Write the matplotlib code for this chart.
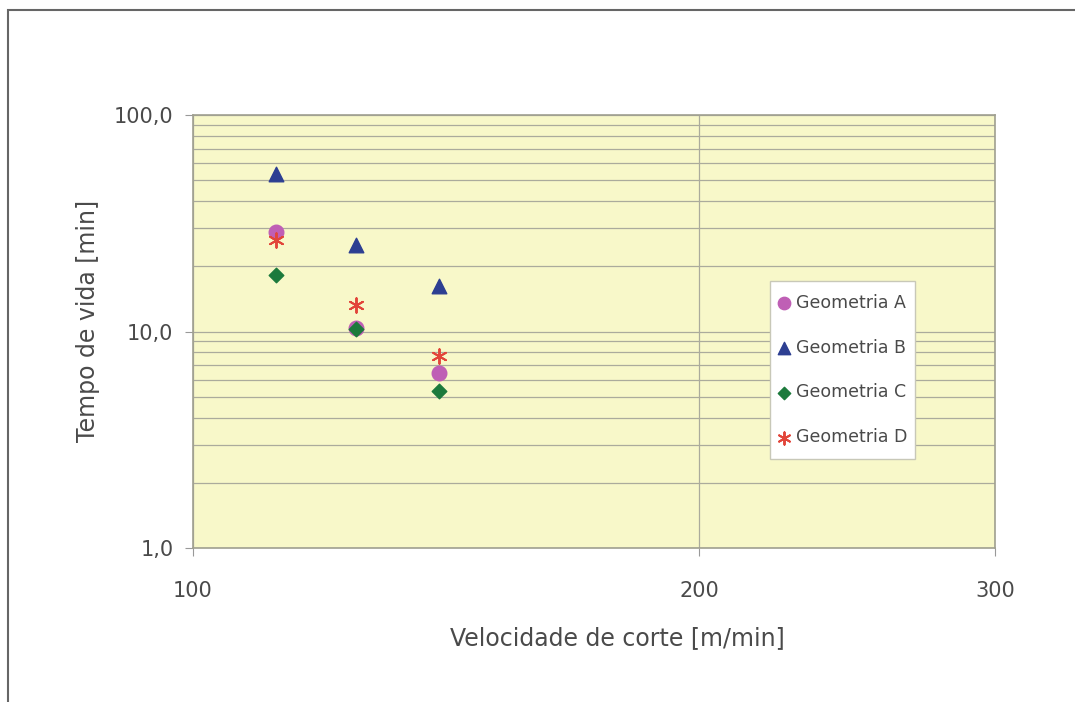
import matplotlib
matplotlib.use("Agg")
import matplotlib.pyplot as plt
from matplotlib.patches import Rectangle
from matplotlib.ticker import FixedLocator, NullFormatter, LogLocator

plt.rcParams['font.family'] = ['DejaVu Sans']

# data
velocidade = [112, 125, 140]
geom_a = [28.7, 10.4, 6.4]
geom_b = [53.5, 25.0, 16.3]
geom_c = [18.3, 10.3, 5.3]
geom_d = [26.5, 13.2, 7.7]

x_ticks = [100, 200, 300]
y_ticks = [1, 10, 100]
y_tick_labels = ["1,0", "10,0", "100,0"]

txt = "#4a4a4a"
grid_col = "#abab9c"

fig = plt.figure(figsize=(10.75, 7.02), dpi=100)
ax = fig.add_axes([193/1075, 1 - 548/702, (995-193)/1075, (548-115)/702])

# outer frame of the original figure (runs past the right/bottom edges)
fig.patches.append(Rectangle((8/1075, -0.05), 1.2, 1 - 10/702 + 0.05,
                             transform=fig.transFigure, fill=False,
                             edgecolor="#666666", linewidth=1.5))

ax.set_facecolor("#f8f8c9")
ax.set_xscale('log')
ax.set_yscale('log')
ax.set_xlim(100, 300)
ax.set_ylim(1, 100)

ax.xaxis.set_major_locator(FixedLocator(x_ticks))
ax.xaxis.set_minor_locator(FixedLocator([]))
ax.set_xticklabels([str(v) for v in x_ticks])
ax.yaxis.set_major_locator(FixedLocator(y_ticks))
ax.set_yticklabels(y_tick_labels)
ax.yaxis.set_minor_locator(LogLocator(base=10, subs=range(2, 10)))
ax.yaxis.set_minor_formatter(NullFormatter())

ax.grid(True, which='major', axis='both', color=grid_col, linewidth=0.9)
ax.grid(True, which='minor', axis='y', color=grid_col, linewidth=0.9)
ax.set_axisbelow(True)

ax.tick_params(axis='both', which='major', length=6, color="#999999",
               labelsize=15, labelcolor=txt)
ax.tick_params(axis='x', pad=18)
ax.tick_params(axis='y', pad=8)
ax.tick_params(which='minor', length=0)

for s in ax.spines.values():
    s.set_color("#a0a090")
    s.set_linewidth(1.2)

ax.scatter(velocidade, geom_a, marker='o', s=110, color="#bf5fb5", label="Geometria A", zorder=3)
ax.scatter(velocidade, geom_b, marker='^', s=110, color="#2d3f92", label="Geometria B", zorder=3)
ax.scatter(velocidade, geom_c, marker='D', s=55, color="#1c7a3c", label="Geometria C", zorder=3)
ax.scatter(velocidade, geom_d, marker=(6, 2, 0), s=110, color="#e2453a", linewidths=1.4,
           label="Geometria D", zorder=4)

ax.set_xlabel("Velocidade de corte [m/min]", fontsize=17, color=txt)
ax.set_ylabel("Tempo de vida [min]", fontsize=17, color=txt)
ax.xaxis.set_label_coords(0.529, -0.18)
ax.yaxis.set_label_coords(-0.116, 0.524)

# legend box drawn separately so its padding matches the original
ax.add_patch(Rectangle((0.719, 0.206), 0.181, 0.411, transform=ax.transAxes,
                       facecolor="white", edgecolor="#c8c8b8", linewidth=1.0, zorder=5))
leg = ax.legend(loc='center', bbox_to_anchor=(0.81, 0.411), frameon=False,
                fontsize=12.5, labelspacing=1.55, handletextpad=0.35,
                borderpad=0, handlelength=0.7, borderaxespad=0, markerscale=0.85)
leg.set_zorder(6)
for t in leg.get_texts():
    t.set_color(txt)

fig.savefig("out.png", dpi=100)
